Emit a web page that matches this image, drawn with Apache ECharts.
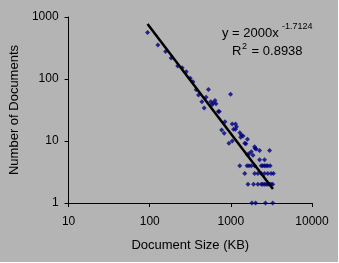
<!DOCTYPE html>
<html><head><meta charset="utf-8">
<script src="https://cdn.jsdelivr.net/npm/echarts@6/dist/echarts.min.js"></script>
<style>
html,body{margin:0;padding:0;background:#ffffff;}
#c{width:338px;height:262px;background:#b4b4b4;}
</style></head>
<body><div id="c"></div>
<script>
// Document size (KB) and number of documents
var docSize = [94,126,157,184,221,251,282,316,341,374,399,439,469,529,495,565,608,638,656,582,991,700,720,845,769,828,946,
  1038,1140,1173,1140,1289,1350,1324,1413,1483,1600,1990,1080,1040,1530,1600,1960,2050,1787,1670,1870,2260,3000,2260,2600,
  1288,1580,1672,1787,1962,2368,2476,2600,2725,2851,3050,
  1483,1962,2153,2368,2600,2851,3130,3345,
  1626,1905,2153,2368,2476,2600,2725,2851,2990,3130,3280,
  1820,2020,2670,3280];
var docCount = [560,353,278,218,162,152,131,103,90,67,55,43,34,68,51,43,41,45,40,38,57,30,30,20.5,15,13.3,9.2,
  18.8,18.8,17,15.4,13.6,12.5,11.5,12,9.2,10.7,7.6,15.4,10,9,6,8.1,7.4,6.7,6.2,5.9,7,7,5,5,
  4,4,4,4,4,4,4,4,4,4,4,
  3,3,3,3,3,3,3,3,
  2,2,2,2,2,2,2,2,2,2,2,
  1,1,1,1];
// Power trend line end points
var trendSize = [94, 3300];
var trendCount = [770, 1.68];
var xTicks = ['10','100','1000','10000'];
var yTicks = ['1','10','100','1000'];

function tickLabel(list){
  return function(v){
    var i = Math.round(Math.log10(v)) - Math.round(Math.log10(Number(list[0])));
    return list[i] !== undefined ? list[i] : '';
  };
}
var pts = docSize.map(function(v,i){return [v, docCount[i]];});
var tl = trendSize.map(function(v,i){return [v, trendCount[i]];});
var chart = echarts.init(document.getElementById('c'), null, {renderer:'canvas'});
var font = 'Liberation Sans, Arial, sans-serif';
chart.setOption({
  backgroundColor: '#b4b4b4',
  animation: false,
  grid: {left:67, right:26, top:17, bottom:59, containLabel:false},
  xAxis: {
    type:'log', logBase:10, min:10, max:10000,
    name:'Document Size (KB)', nameLocation:'middle', nameGap:36,
    nameTextStyle:{color:'#000', fontSize:13, fontFamily:font},
    axisLine:{lineStyle:{color:'#000', width:1}},
    axisTick:{show:true, length:4, lineStyle:{color:'#000'}},
    minorTick:{show:false},
    splitLine:{show:false},
    axisLabel:{color:'#000', fontSize:12, fontFamily:font, margin:13, formatter:tickLabel(xTicks)},
  },
  yAxis: {
    type:'log', logBase:10, min:1, max:1000,
    name:'Number of Documents', nameLocation:'middle', nameGap:47,
    nameTextStyle:{color:'#000', fontSize:13, fontFamily:font},
    axisLine:{show:true, lineStyle:{color:'#000', width:1}},
    axisTick:{show:true, length:4, lineStyle:{color:'#000'}},
    splitLine:{show:false},
    axisLabel:{color:'#000', fontSize:12, fontFamily:font, margin:10, formatter:tickLabel(yTicks)},
  },
  graphic: [
    {type:'text', left:222, top:27, style:{text:'y = 2000x', font:'13px '+font, fill:'#000'}},
    {type:'text', left:282, top:22, style:{text:'-1.7124', font:'9px '+font, fill:'#000'}},
    {type:'text', left:232, top:45, style:{text:'R', font:'13px '+font, fill:'#000'}},
    {type:'text', left:242, top:42, style:{text:'2', font:'9px '+font, fill:'#000'}},
    {type:'text', left:248, top:45, style:{text:' = 0.8938', font:'13px '+font, fill:'#000'}}
  ],
  series: [
    {type:'scatter', data:pts, symbol:'diamond', symbolSize:5, itemStyle:{color:'#000080'}, z:2},
    {type:'line', data:tl, showSymbol:false, symbol:'none', lineStyle:{color:'#000', width:2.5}, z:3}
  ]
});
</script></body></html>
